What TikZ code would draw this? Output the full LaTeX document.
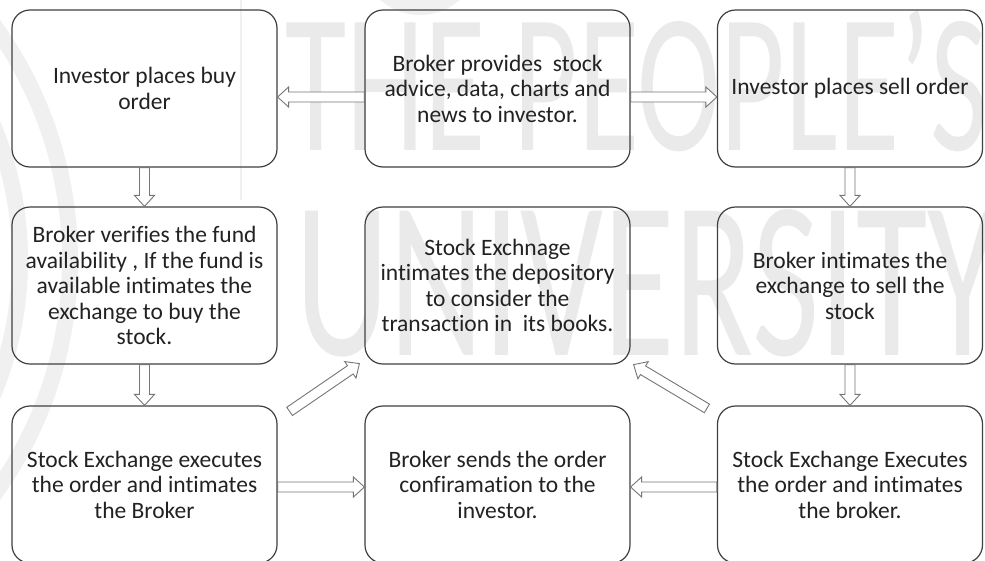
\documentclass[tikz,border=0pt]{standalone}
\usepackage{fontspec}
\setmainfont{Carlito}[Ligatures={NoCommon}]
\usetikzlibrary{calc}
\definecolor{bordergray}{HTML}{404040}
\definecolor{arrowgray}{HTML}{767676}
\definecolor{wmgray}{HTML}{EAEAEA}
\definecolor{logogray}{HTML}{F0F0F0}
\definecolor{txtgray}{HTML}{222222}
\newcommand\fatarr[2]{%
  \coordinate (fa-s) at (#1);
  \coordinate (fa-t) at (#2);
  \coordinate (fa-h) at ($(fa-t)!11pt!(fa-s)$);
  \draw[fatarrow] ($(fa-s)!5pt!90:(fa-t)$) -- ($(fa-h)!5pt!90:(fa-t)$) --
    ($(fa-h)!10pt!90:(fa-t)$) -- (fa-t) -- ($(fa-h)!10pt!-90:(fa-t)$) --
    ($(fa-h)!5pt!-90:(fa-t)$) -- ($(fa-s)!5pt!-90:(fa-t)$) -- cycle;
}
\begin{document}
\begin{tikzpicture}[x=1pt,y=-1pt,
  flowbox/.style={draw=bordergray, line width=1.2pt, rounded corners=18pt,
    minimum width=265pt, minimum height=157pt, align=center, inner sep=0pt,
    font=\fontsize{23.5}{25.5}\selectfont, text=txtgray},
  fatarrow/.style={draw=arrowgray, line width=0.9pt, fill=white, line join=miter},
  wmtext/.style={text=wmgray, inner sep=0pt, anchor=base west}]
\useasboundingbox (0,0) rectangle (985,560);
\clip (0,0) rectangle (985,560);
\fill[white] (0,0) rectangle (985,560);
% faint logo behind
\fill[logogray] (420,-45) circle (60);
\draw[logogray, line width=16pt] (-330,260) circle (400);
\draw[logogray, line width=16pt] (-330,260) circle (350);
\draw[logogray, line width=1.5pt] (241,0) -- (241,200);
% watermark
\node[wmtext, font=\fontsize{199}{199}\selectfont, xscale=0.63] (wm1) at (285,150) {THE PEOPLE’S};
\node[wmtext, font=\fontsize{225}{225}\selectfont, xscale=0.65] (wm2) at (295,355) {UNIVERSITY};
% boxes
\node[flowbox] (b1) at (144.5,88.5) {Investor places buy\\order};
\node[flowbox] (b2) at (497.5,88.5) {Broker provides\ \ stock\\advice, data, charts and\\news to investor.};
\node[flowbox] (b3) at (850,88.5) {Investor places sell order};
\node[flowbox] (b4) at (144.5,285.5) {Broker verifies the fund\\availability , If the fund is\\available intimates the\\exchange to buy the\\stock.};
\node[flowbox] (b5) at (497.5,285.5) {Stock Exchnage\\intimates the depository\\to consider the\\transaction in\ \ its books.};
\node[flowbox] (b6) at (850,285.5) {Broker intimates the\\exchange to sell the\\stock};
\node[flowbox] (b7) at (144.5,484.5) {Stock Exchange executes\\the order and intimates\\the Broker};
\node[flowbox] (b8) at (497.5,484.5) {Broker sends the order\\confiramation to the\\investor.};
\node[flowbox] (b9) at (850,484.5) {Stock Exchange Executes\\the order and intimates\\the broker.};
% arrows
\fatarr{[yshift=-8.5pt]b2.west}{[yshift=-8.5pt]b1.east}
\fatarr{[yshift=-8.5pt]b2.east}{[yshift=-8.5pt]b3.west}
\fatarr{b1.south}{b4.north}
\fatarr{b4.south}{b7.north}
\fatarr{b3.south}{b6.north}
\fatarr{b6.south}{b9.north}
\fatarr{[yshift=-2.5pt]b7.east}{[yshift=-2.5pt]b8.west}
\fatarr{[yshift=-2.5pt]b9.west}{[yshift=-2.5pt]b8.east}
\fatarr{[shift={(12pt,-6pt)}]b7.north east}{[shift={(-5pt,1pt)}]b5.south west}
\fatarr{[shift={(-10pt,-3pt)}]b9.north west}{[shift={(3pt,0pt)}]b5.south east}
\end{tikzpicture}
\end{document}
